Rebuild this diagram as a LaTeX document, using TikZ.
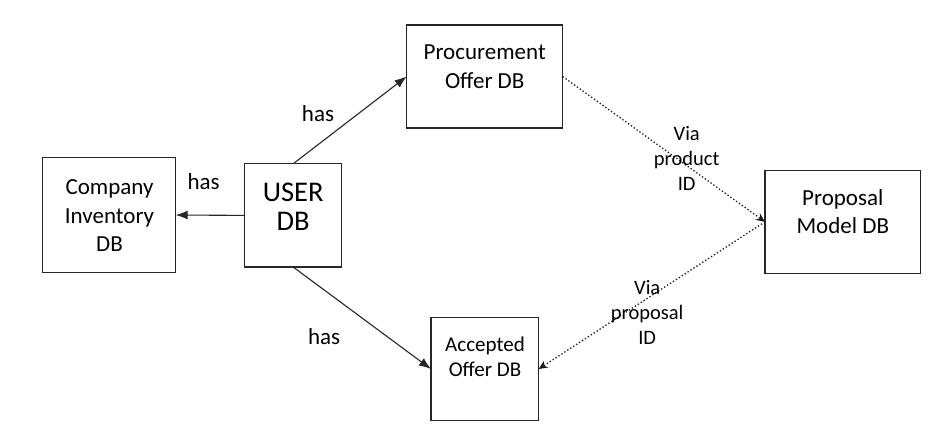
\documentclass[tikz,border=0pt]{standalone}
\usepackage{fontspec}
\setmainfont{Carlito}
\usetikzlibrary{arrows.meta}
\begin{document}
\begin{tikzpicture}[x=1pt,y=-1pt,
  box/.style={draw=black!85, line width=1.3pt, inner sep=0pt, outer sep=0pt},
  txt/.style={align=center, inner sep=0pt, font=\fontsize{23}{28.5}\selectfont},
  bigtxt/.style={align=center, inner sep=0pt, font=\fontsize{28.5}{29}\selectfont},
  smalltxt/.style={align=center, inner sep=0pt, font=\fontsize{21}{25}\selectfont},
  viatxt/.style={align=center, inner sep=0pt, font=\fontsize{20.5}{25}\selectfont},
  haslbl/.style={inner sep=0pt, font=\fontsize{23}{28}\selectfont},
  arr/.style={draw=black!85, line width=1.1pt, -{Latex[length=12pt,width=9pt]}},
  dotarr/.style={draw=black!90, line width=1.3pt, dash pattern=on 1.3pt off 2.2pt, -{Stealth[length=9pt,width=8pt,inset=3pt,sep=0pt]}}
]
\useasboundingbox (0,0) rectangle (942,445);
\fill[white] (0,0) rectangle (942,445);
% boxes
\node[box, minimum width=133.4pt, minimum height=115.4pt] (inv) at (109,215) {};
\node[box, minimum width=97pt, minimum height=103.3pt] (user) at (293.2,215.4) {};
\node[box, minimum width=156pt, minimum height=103pt] (proc) at (484.7,76.5) {};
\node[box, minimum width=155.7pt, minimum height=103pt] (prop) at (842.8,221.8) {};
\node[box, minimum width=107.7pt, minimum height=103.4pt] (acc) at (484.8,369) {};
% texts
\node[txt] (invT) at (109.5,215.8) {Company\\Inventory\\DB};
\node[bigtxt] (userT) at (293.2,206.7) {USER\\DB};
\node[txt] (procT) at (484.7,66.7) {Procurement\\Offer DB};
\node[txt] (propT) at (842.8,211.7) {Proposal\\Model DB};
\node[smalltxt] (accT) at (485,356.7) {Accepted\\Offer DB};
% connectors
\draw[arr] (user.north) -- (proc.west);
\draw[arr] (user.south) -- (acc.west);
\draw[arr] (user.west) -- (inv.east);
\draw[dotarr] (proc.east) -- (prop.west);
\draw[dotarr] (prop.west) -- (acc.east);
% labels
\node[haslbl] (has1) at (318,113.3) {has};
\node[haslbl] (has2) at (203.7,182) {has};
\node[haslbl] (has3) at (324.2,336.7) {has};
\node[viatxt] (via1) at (686.7,158.3) {Via\\product\\ID};
\node[viatxt] (via2) at (647.2,312.3) {Via\\proposal\\ID};
\end{tikzpicture}
\end{document}
